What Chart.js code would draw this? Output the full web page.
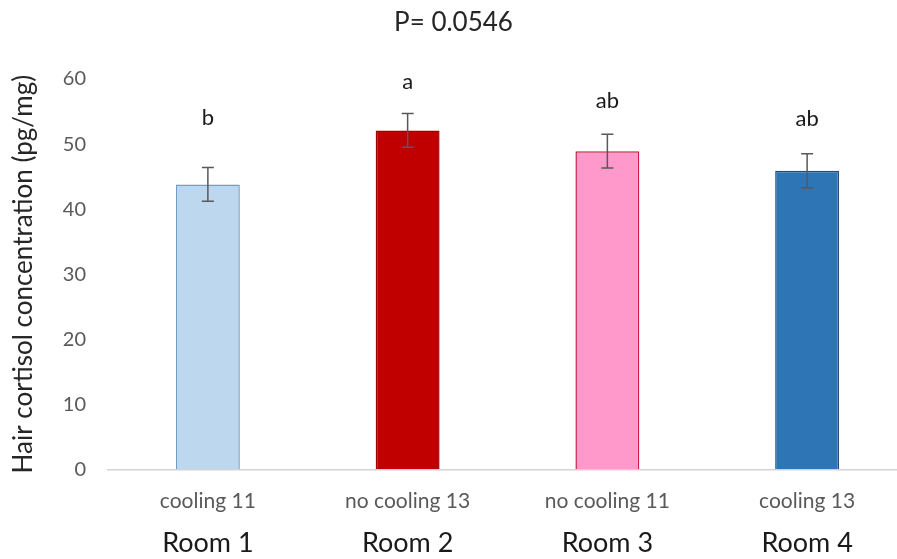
<!DOCTYPE html>
<html>
<head>
<meta charset="utf-8">
<script src="https://cdn.jsdelivr.net/npm/chart.js@4"></script>
<style>
  html, body { margin: 0; padding: 0; background: #fff; overflow: hidden; }
  #wrap { width: 907px; height: 559px; }
</style>
</head>
<body>
<div id="wrap"><canvas id="c" width="907" height="559"></canvas></div>
<script>
// Hair cortisol per room (mean ± SEM) with significance letters
const rooms = ['Room 1', 'Room 2', 'Room 3', 'Room 4'];
const treatments = ['cooling 11', 'no cooling 13', 'no cooling 11', 'cooling 13'];
const cortisolMean = [43.8, 52.1, 48.9, 45.9];
const cortisolSem = [2.6, 2.6, 2.6, 2.6];
const letters = ['b', 'a', 'ab', 'ab'];
const letterLevel = [52.9, 58.4, 55.6, 52.8];   // baseline of each letter, in pg/mg
const yTicks = [0, 10, 20, 30, 40, 50, 60];
const pValueText = 'P= 0.0546';

const fillColors = ['#BDD7EE', '#C00000', '#FF99CC', '#2E75B6'];
const edgeColors = ['#6E9FCB', '#A00000', '#C8203E', '#1F4E79'];
const FONT = 'Lato';

const errorBarsAndLetters = {
  id: 'errorBarsAndLetters',
  afterDatasetsDraw(chart) {
    const ctx = chart.ctx;
    const xs = chart.scales.x, ys = chart.scales.y;
    ctx.save();
    cortisolMean.forEach((m, i) => {
      const x = xs.getPixelForValue(i);
      const yHi = ys.getPixelForValue(m + cortisolSem[i]);
      const yLo = ys.getPixelForValue(m - cortisolSem[i]);
      ctx.strokeStyle = '#595959';
      ctx.lineWidth = 1.5;
      ctx.beginPath();
      ctx.moveTo(x, yHi); ctx.lineTo(x, yLo);
      ctx.moveTo(x - 6, yHi); ctx.lineTo(x + 6, yHi);
      ctx.moveTo(x - 6, yLo); ctx.lineTo(x + 6, yLo);
      ctx.stroke();

      ctx.fillStyle = '#1a1a1a';
      ctx.font = '22px ' + FONT;
      ctx.textAlign = 'center';
      ctx.textBaseline = 'alphabetic';
      ctx.fillText(letters[i], x, ys.getPixelForValue(letterLevel[i]));
    });
    ctx.restore();
  }
};

new Chart(document.getElementById('c'), {
  type: 'bar',
  data: {
    labels: treatments,
    datasets: [{
      data: cortisolMean,
      backgroundColor: fillColors,
      borderColor: edgeColors,
      borderWidth: 1.5,
      borderSkipped: 'start',
      categoryPercentage: 1,
      barPercentage: 0.32
    }]
  },
  options: {
    responsive: false,
    animation: false,
    devicePixelRatio: 1,
    layout: { padding: 0 },
    plugins: {
      legend: { display: false },
      tooltip: { enabled: false },
      title: {
        display: true,
        text: pValueText,
        color: '#262626',
        font: { family: FONT, size: 26, weight: 'normal' },
        padding: { top: 7, bottom: 40.8 }
      }
    },
    scales: {
      x: {
        position: 'bottom',
        grid: { display: false, drawTicks: false },
        border: { display: true, color: '#D4D4D4', width: 1.5 },
        ticks: {
          color: '#595959',
          font: { family: FONT, size: 21 },
          padding: 19,
          maxRotation: 0,
          autoSkip: false
        },
        afterFit(s) { s.height = 48; }
      },
      x2: {
        type: 'category',
        labels: rooms,
        position: 'bottom',
        offset: true,
        grid: { display: false, drawTicks: false },
        border: { display: false },
        ticks: {
          color: '#1a1a1a',
          font: { family: FONT, size: 27 },
          padding: 10,
          maxRotation: 0,
          autoSkip: false
        },
        afterFit(s) { s.height = 41.7; }
      },
      y: {
        min: 0,
        max: 60,
        grid: { display: false, drawTicks: false },
        border: { display: false },
        afterBuildTicks(s) { s.ticks = yTicks.map(v => ({ value: v })); },
        ticks: {
          color: '#595959',
          font: { family: FONT, size: 20 },
          padding: 22
        },
        title: {
          display: true,
          text: 'Hair cortisol concentration (pg/mg)',
          color: '#262626',
          font: { family: FONT, size: 26 },
          padding: { top: 8, bottom: 0 }
        },
        afterFit(s) { s.width = 108; }
      }
    }
  },
  plugins: [errorBarsAndLetters]
});
</script>
</body>
</html>
